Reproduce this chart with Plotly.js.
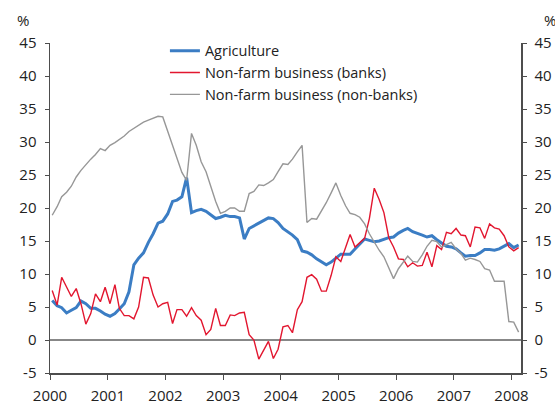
<!DOCTYPE html>
<html>
<head>
<meta charset="utf-8">
<script src="https://cdn.plot.ly/plotly-3.0.1.min.js"></script>
<style>html,body{margin:0;padding:0;background:#fff;}#chart{width:555px;height:403px;}</style>
</head>
<body>
<div id="chart"></div>
<script>
// Monthly observations, January 2000 to February 2008
const startYear = 2000;
const monthCount = 98;

const agriculture = [
  6.0, 5.2, 4.9, 4.1, 4.5, 4.9, 5.9, 5.5, 4.8, 4.8, 4.4, 3.9,
  3.6, 4.0, 4.7, 5.5, 7.3, 11.4, 12.4, 13.2, 14.8, 16.1, 17.7, 18.0,
  19.1, 21.0, 21.2, 21.7, 24.6, 19.3, 19.6, 19.8, 19.5, 18.9, 18.4, 18.6,
  18.9, 18.7, 18.7, 18.5, 15.3, 16.9, 17.3, 17.8, 18.1, 18.5, 18.4, 17.8,
  16.9, 16.4, 15.9, 15.2, 13.5, 13.3, 12.9, 12.3, 11.9, 11.4, 11.8, 12.4,
  13.0, 13.0, 13.0, 13.8, 14.6, 15.3, 15.1, 14.9, 15.0, 15.3, 15.5, 15.6,
  16.2, 16.6, 16.9, 16.4, 16.2, 15.9, 15.6, 15.8, 15.2, 14.7, 14.2, 14.1,
  13.8, 13.2, 12.7, 12.8, 12.8, 13.2, 13.7, 13.7, 13.6, 13.8, 14.2, 14.6,
  14.0, 14.4
];

const banks = [
  7.5, 5.3, 9.5, 8.0, 6.6, 7.8, 5.5, 2.4, 4.0, 7.0, 5.8, 8.0,
  5.5, 8.4, 4.8, 3.7, 3.7, 3.2, 5.0, 9.5, 9.4, 6.8, 5.0, 5.5,
  5.7, 2.5, 4.6, 4.6, 3.6, 4.9, 3.7, 3.0, 0.8, 1.6, 4.8, 2.2,
  2.2, 3.8, 3.7, 4.1, 4.2, 0.8, 0.0, -2.9, -1.6, -0.2, -2.8, -1.4,
  2.0, 2.2, 1.1, 4.6, 5.8, 9.5, 9.9, 9.2, 7.4, 7.4, 9.8, 12.6,
  11.9, 14.1, 16.0, 14.1, 14.8, 15.4, 18.4, 23.0, 21.3, 19.3, 15.5, 14.1,
  12.3, 12.2, 11.1, 11.7, 11.2, 11.3, 13.3, 11.1, 14.3, 13.7, 16.3, 16.1,
  16.9, 15.9, 15.8, 14.1, 17.1, 17.0, 15.4, 17.6, 17.0, 16.8, 15.8, 14.1,
  13.5, 14.0
];

const nonBanks = [
  18.9, 20.2, 21.7, 22.4, 23.3, 24.7, 25.7, 26.6, 27.4, 28.1, 29.0, 28.7,
  29.5, 29.9, 30.4, 30.9, 31.6, 32.1, 32.5, 33.0, 33.3, 33.6, 33.9, 33.8,
  31.6, 29.5, 27.3, 25.4, 24.2, 31.3, 29.5, 27.0, 25.5, 23.2, 21.0, 19.2,
  19.5, 20.0, 20.0, 19.5, 19.5, 22.2, 22.5, 23.5, 23.4, 23.8, 24.3, 25.5,
  26.7, 26.6, 27.4, 28.5, 29.5, 17.8, 18.4, 18.3, 19.5, 20.8, 22.3, 23.8,
  21.9, 20.3, 19.2, 19.0, 18.6, 17.6, 16.1, 14.8, 13.6, 12.6, 10.9, 9.3,
  10.8, 11.8, 12.7, 11.9, 11.8, 12.9, 14.2, 15.1, 14.9, 14.1, 14.5, 14.8,
  13.8, 13.1, 12.1, 12.4, 12.2, 11.9, 10.8, 10.6, 8.9, 8.9, 8.9, 2.8,
  2.7, 1.2
];

const seriesNames = ['Agriculture', 'Non-farm business (banks)', 'Non-farm business (non-banks)'];
const yTicks = [-5, 0, 5, 10, 15, 20, 25, 30, 35, 40, 45];
const xTickYears = ['2000','2001','2002','2003','2004','2005','2006','2007','2008'];

const dates = [];
for (let i = 0; i < monthCount; i++) {
  const y = startYear + Math.floor(i / 12);
  const m = (i % 12) + 1;
  dates.push(y + '-' + (m < 10 ? '0' + m : m) + '-15');
}

const FONT = 'Open Sans, DejaVu Sans, sans-serif';
const axisColor = '#4d4d4d';
const textColor = '#222';

const traces = [
  {x: dates, y: agriculture, name: seriesNames[0], type: 'scatter', mode: 'lines',
   line: {color: '#3b7dc4', width: 3}},
  {x: dates, y: banks, name: seriesNames[1], type: 'scatter', mode: 'lines',
   line: {color: '#e2162f', width: 1.4}},
  {x: dates, y: nonBanks, name: seriesNames[2], type: 'scatter', mode: 'lines',
   line: {color: '#979797', width: 1.4}},
  {x: [dates[0]], y: [null], yaxis: 'y2', showlegend: false, hoverinfo: 'skip',
   type: 'scatter', mode: 'lines'}
];

const yCommon = {
  range: [-5, 45], tickvals: yTicks, ticktext: yTicks.map(String),
  showgrid: false, zeroline: false, showline: true, linecolor: axisColor, linewidth: 1.5,
  ticks: 'outside', ticklen: 4, tickwidth: 1, tickcolor: axisColor, ticklabelstandoff: 5,
  tickfont: {family: FONT, size: 15, color: textColor}, fixedrange: true
};

const layout = {
  width: 555, height: 403,
  margin: {l: 50, r: 34, t: 43, b: 30},
  paper_bgcolor: '#fff', plot_bgcolor: '#fff',
  showlegend: true,
  legend: {x: 0.244, y: 1.025, xanchor: 'left', yanchor: 'top', bgcolor: 'rgba(0,0,0,0)',
           font: {family: FONT, size: 14.5, color: textColor}, itemwidth: 30, tracegroupgap: 0},
  xaxis: {
    type: 'date', range: ['2000-01-01', '2008-03-01'],
    tickvals: xTickYears.map(y => y + '-01-01'), ticktext: xTickYears,
    showgrid: false, zeroline: false, showline: true, linecolor: axisColor, linewidth: 1.5,
    ticks: 'outside', ticklen: 5, tickwidth: 1, tickcolor: axisColor, ticklabelstandoff: 3,
    tickfont: {family: FONT, size: 15, color: textColor}
  },
  yaxis: Object.assign({}, yCommon, {side: 'left'}),
  yaxis2: Object.assign({}, yCommon, {side: 'right', overlaying: 'y'}),
  shapes: [
    {type: 'line', xref: 'paper', x0: 0, x1: 1, yref: 'y', y0: 0, y1: 0,
     line: {color: '#111', width: 1}, layer: 'below'}
  ],
  annotations: [
    {text: '%', xref: 'paper', yref: 'paper', x: -0.057, y: 1.069, xanchor: 'center', yanchor: 'middle',
     showarrow: false, font: {family: FONT, size: 15, color: textColor}},
    {text: '%', xref: 'paper', yref: 'paper', x: 1.045, y: 1.069, xanchor: 'left', yanchor: 'middle',
     showarrow: false, font: {family: FONT, size: 15, color: textColor}}
  ]
};

Plotly.newPlot('chart', traces, layout, {staticPlot: true, displayModeBar: false});
</script>
</body>
</html>
